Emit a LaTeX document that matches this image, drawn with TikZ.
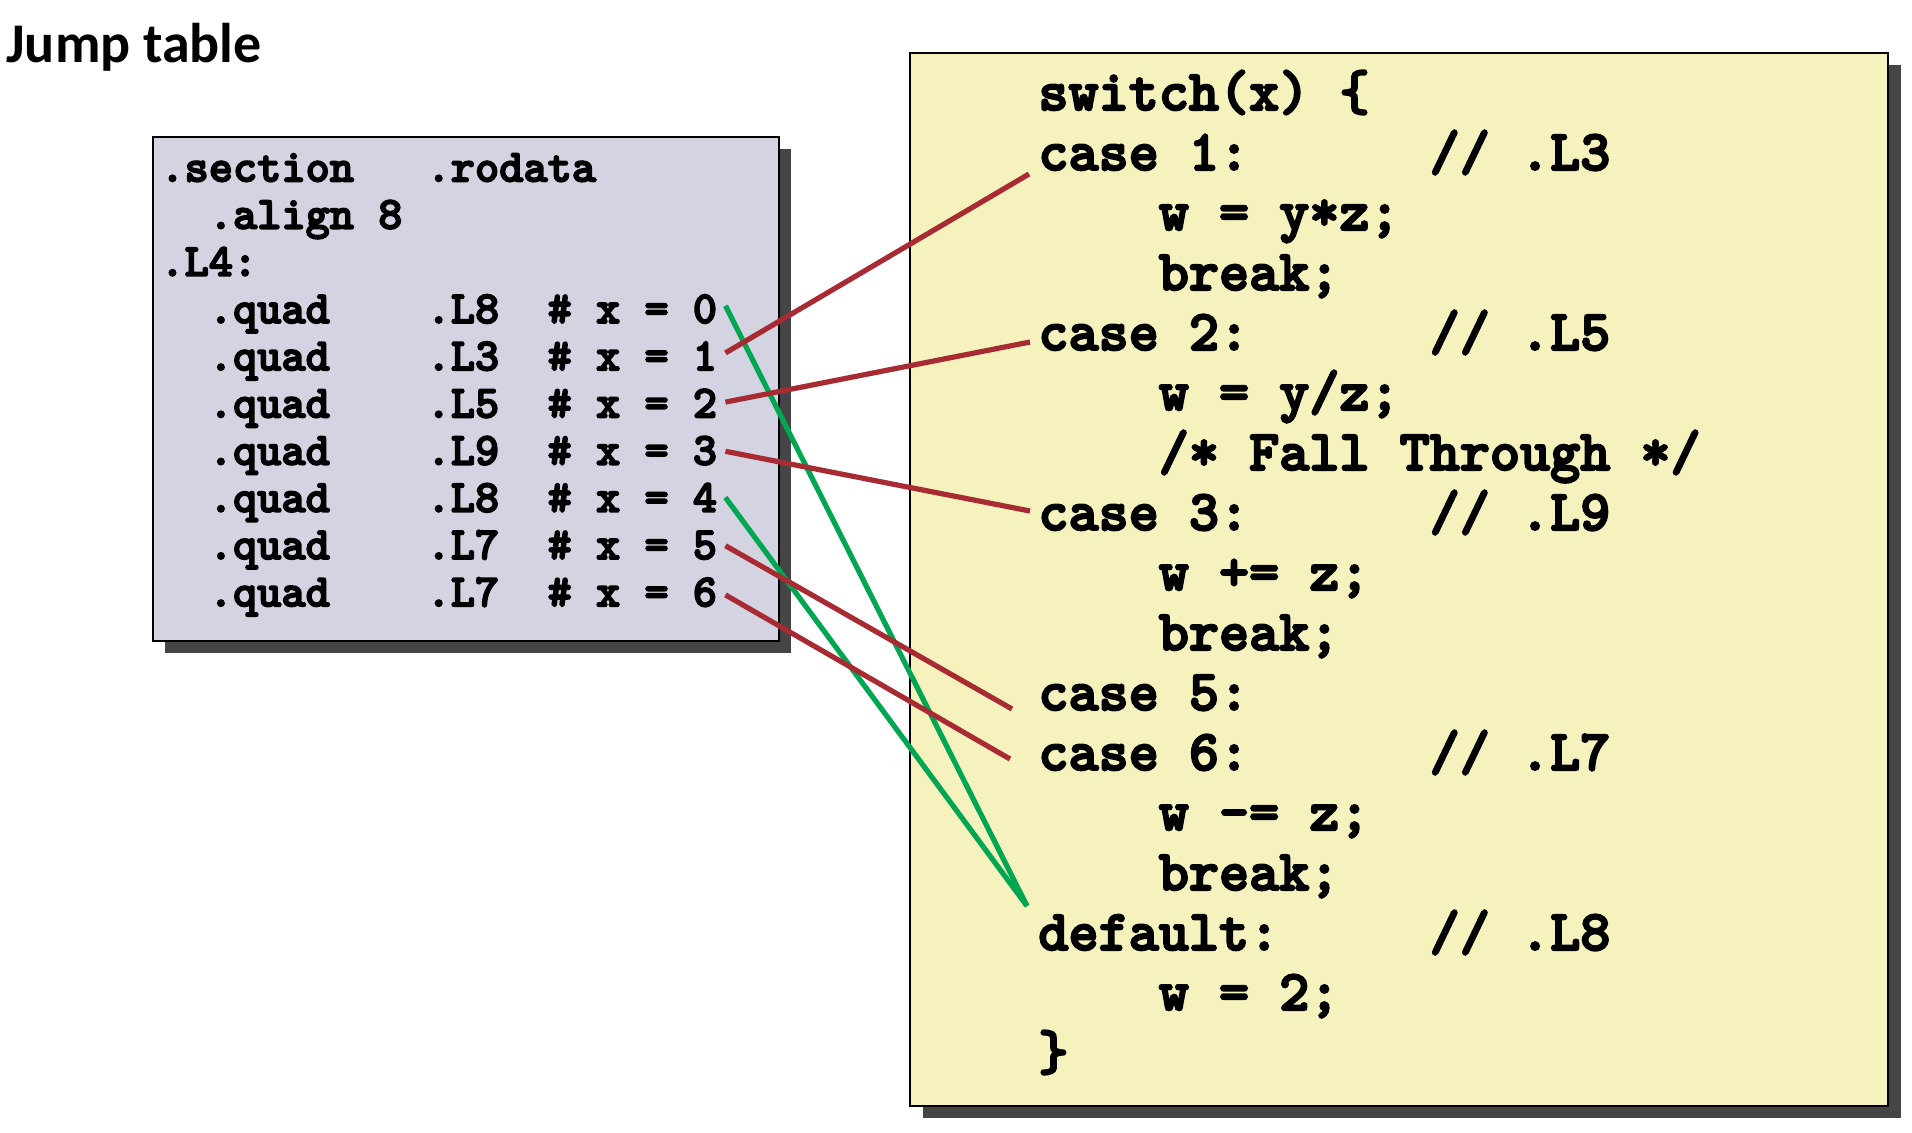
\documentclass[tikz,border=0pt]{standalone}
\usepackage{fontspec}
\newfontfamily\calibri{Carlito}
\newfontfamily\codefont{lmmonolt10-bold.otf}[FakeBold=3.5]
\usepackage{tikz}
\usetikzlibrary{positioning, shadows}
\definecolor{tablelilac}{HTML}{D3D3E2}
\definecolor{codeyellow}{HTML}{F5F2BD}
\definecolor{shadowgray}{HTML}{454545}
\definecolor{jumpred}{HTML}{A82A33}
\definecolor{jumpgreen}{HTML}{00A651}
\tikzstyle{title} = [anchor=base west, inner sep=0pt, font=\calibri\bfseries\fontsize{28}{32}\selectfont]
\tikzstyle{tblock} = [rectangle, draw, line width=1.2pt, fill=tablelilac, 
minimum width=313pt, minimum height=252pt, drop shadow={shadow xshift=6pt, shadow yshift=-6pt, fill=shadowgray, opacity=1}]
\tikzstyle{cblock} = [rectangle, draw, line width=1.2pt, fill=codeyellow, 
minimum width=489pt, minimum height=526.5pt, drop shadow={shadow xshift=6.5pt, shadow yshift=-6pt, fill=shadowgray, opacity=1}]
\tikzstyle{trow} = [inner sep=0pt, anchor=base west, font=\codefont\fontsize{23.05}{27}\selectfont, 
text height=15pt, text depth=8.6pt]
\tikzstyle{crow} = [inner sep=0pt, anchor=base west, font=\codefont\fontsize{28.67}{34}\selectfont, 
text height=20pt, text depth=10pt]
\tikzset{tnext/.style={below=23.6pt of #1.base west, anchor=base west},
         cnext/.style={below=30pt of #1.base west, anchor=base west}}
\tikzstyle{redline} = [line width=2.6pt, draw=jumpred]
\tikzstyle{greenline} = [line width=2.6pt, draw=jumpgreen]

\begin{document}
\begin{tikzpicture}[x=0.5pt, y=-0.5pt]
    \useasboundingbox (0,0) rectangle (1912,1132);
    \node (Title) [title] at (6,62) {Jump table};
    \node (Table) [tblock] at (466,389) {};
    \node (Code) [cblock] at (1399,579.5) {};

    % jump table
    \node (Section) [trow] at (160,181.5) {.section~~~.rodata};
    \node (Align) [trow, tnext=Section] {~~.align~8};
    \node (LFour) [trow, tnext=Align] {.L4:};
    \node (QuadZero) [trow, tnext=LFour] {~~.quad~~~~.L8~~\#~x~=~0};
    \node (QuadOne) [trow, tnext=QuadZero] {~~.quad~~~~.L3~~\#~x~=~1};
    \node (QuadTwo) [trow, tnext=QuadOne] {~~.quad~~~~.L5~~\#~x~=~2};
    \node (QuadThree) [trow, tnext=QuadTwo] {~~.quad~~~~.L9~~\#~x~=~3};
    \node (QuadFour) [trow, tnext=QuadThree] {~~.quad~~~~.L8~~\#~x~=~4};
    \node (QuadFive) [trow, tnext=QuadFour] {~~.quad~~~~.L7~~\#~x~=~5};
    \node (QuadSix) [trow, tnext=QuadFive] {~~.quad~~~~.L7~~\#~x~=~6};

    % switch code
    \node (Switch) [crow] at (1038,110) {switch(x)~\{};
    \node (CaseOne) [crow, cnext=Switch] {case~1:~~~~~~//~.L3};
    \node (MulYZ) [crow, cnext=CaseOne] {~~~~w~=~y*z;};
    \node (BreakOne) [crow, cnext=MulYZ] {~~~~break;};
    \node (CaseTwo) [crow, cnext=BreakOne] {case~2:~~~~~~//~.L5};
    \node (DivYZ) [crow, cnext=CaseTwo] {~~~~w~=~y/z;};
    \node (Fall) [crow, cnext=DivYZ] {~~~~/*~Fall~Through~*/};
    \node (CaseThree) [crow, cnext=Fall] {case~3:~~~~~~//~.L9};
    \node (AddZ) [crow, cnext=CaseThree] {~~~~w~+=~z;};
    \node (BreakThree) [crow, cnext=AddZ] {~~~~break;};
    \node (CaseFive) [crow, cnext=BreakThree] {case~5:};
    \node (CaseSix) [crow, cnext=CaseFive] {case~6:~~~~~~//~.L7};
    \node (SubZ) [crow, cnext=CaseSix] {~~~~w~-=~z;};
    \node (BreakSix) [crow, cnext=SubZ] {~~~~break;};
    \node (Default) [crow, cnext=BreakSix] {default:~~~~~//~.L8};
    \node (SetTwo) [crow, cnext=Default] {~~~~w~=~2;};
    \node (Close) [crow, cnext=SetTwo] {\}};

    \draw [greenline] ([shift={(8,-11)}]QuadZero.east) -- ([shift={(-11,-34)}]Default.west);
    \draw [redline] ([shift={(8,-11)}]QuadOne.east) -- ([shift={(-9,14)}]CaseOne.west);
    \draw [redline] ([shift={(8,-9)}]QuadTwo.east) -- ([shift={(-8,2)}]CaseTwo.west);
    \draw [redline] ([shift={(8,-7)}]QuadThree.east) -- ([shift={(-8,-9)}]CaseThree.west);
    \draw [greenline] ([shift={(8,-8)}]QuadFour.east) -- ([shift={(-11,-34)}]Default.west);
    \draw [redline] ([shift={(8,-7)}]QuadFive.east) -- ([shift={(-26,9)}]CaseFive.west);
    \draw [redline] ([shift={(8,-5)}]QuadSix.east) -- ([shift={(-28,-1)}]CaseSix.west);
\end{tikzpicture}
\end{document}
